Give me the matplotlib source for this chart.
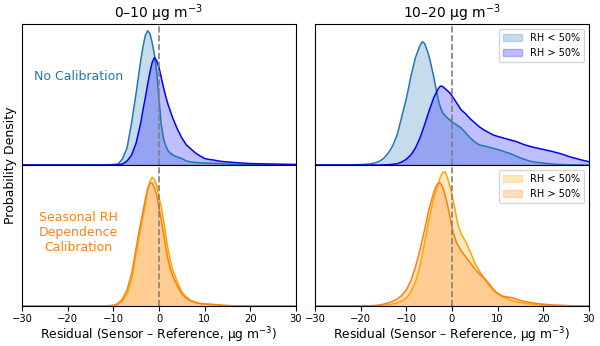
import numpy as np
import matplotlib
matplotlib.use("Agg")
import matplotlib.pyplot as plt
from matplotlib.patches import Patch

# residual grid points (ug m-3) and density
# ---- 0-10 ug m-3, no calibration ----
x_tl_lo = [-30, -15, -11, -10, -9, -8, -7, -6, -5, -4, -3.5, -3, -2.5, -2, -1.5,
           -1, -0.5, 0, 0.5, 1, 1.5, 2, 3, 4, 5, 6, 7, 8, 10, 12, 14, 16, 18,
           20, 25, 30]
y_tl_lo = [0, 0, 0.0002, 0.0005, 0.001, 0.006, 0.017, 0.042, 0.072, 0.104,
           0.118, 0.129, 0.1337, 0.131, 0.122, 0.110, 0.092, 0.066, 0.040,
           0.026, 0.019, 0.014, 0.010, 0.008, 0.0065, 0.004, 0.003, 0.0025,
           0.002, 0.0017, 0.0013, 0.0008, 0.0005, 0.0003, 0.0001, 0]
x_tl_hi = [-30, -12, -9, -8, -7, -6, -5, -4, -3.5, -3, -2.5, -2, -1.5, -1, -0.5,
           0, 0.5, 1, 1.5, 2, 3, 4, 5, 6, 7, 8, 9, 10, 11, 12, 13, 14, 16, 18,
           20, 25, 30]
y_tl_hi = [0, 0, 0.0003, 0.001, 0.004, 0.010, 0.022, 0.042, 0.055, 0.067,
           0.080, 0.092, 0.102, 0.107, 0.104, 0.097, 0.087, 0.077, 0.068,
           0.060, 0.047, 0.036, 0.027, 0.020, 0.016, 0.012, 0.009, 0.0065,
           0.0055, 0.005, 0.004, 0.0035, 0.0027, 0.002, 0.0015, 0.001, 0.0006]

# ---- 10-20 ug m-3, no calibration ----
x_tr_lo = [-30, -22, -20, -18, -17, -16, -15, -14, -13, -12, -11, -10, -9, -8,
           -7, -6.5, -6, -5.5, -5, -4.5, -4, -3.5, -3, -2.5, -2, -1.5, -1, 0,
           1, 2, 3, 4, 5, 6, 7, 8, 9, 10, 11, 12, 13, 14, 15, 16, 17, 18, 20,
           22, 24, 26, 30]
y_tr_lo = [0, 0.0002, 0.0005, 0.001, 0.002, 0.0035, 0.0065, 0.0115, 0.019,
           0.030, 0.048, 0.066, 0.088, 0.107, 0.119, 0.1227, 0.121, 0.115,
           0.108, 0.098, 0.088, 0.076, 0.065, 0.057, 0.052, 0.049, 0.047,
           0.043, 0.040, 0.037, 0.032, 0.027, 0.023, 0.020, 0.019, 0.018,
           0.0167, 0.0155, 0.014, 0.0125, 0.011, 0.009, 0.007, 0.0055, 0.004,
           0.003, 0.002, 0.001, 0.0005, 0.0002, 0]
x_tr_hi = [-30, -16, -14, -13, -12, -11, -10, -9, -8, -7, -6, -5, -4, -3, -2.5,
           -2, -1.5, -1, -0.5, 0, 1, 2, 3, 4, 5, 6, 7, 8, 9, 10, 12, 14, 16,
           18, 20, 22, 24, 26, 28, 30]
y_tr_hi = [0, 0, 0.0003, 0.0007, 0.0013, 0.003, 0.0058, 0.010, 0.017, 0.027,
           0.040, 0.054, 0.067, 0.076, 0.0787, 0.078, 0.076, 0.074, 0.072,
           0.069, 0.062, 0.055, 0.051, 0.046, 0.042, 0.038, 0.035, 0.0325,
           0.030, 0.0285, 0.026, 0.0235, 0.020, 0.0175, 0.0155, 0.0135, 0.011,
           0.008, 0.0055, 0.0033]

# ---- 0-10 ug m-3, seasonal RH calibration ----
x_bl_lo = [-30, -12, -10, -9, -8, -7, -6, -5, -4, -3, -2.5, -2, -1.5, -1, -0.5,
           0, 0.5, 1, 1.5, 2, 2.5, 3, 4, 5, 6, 7, 8, 9, 10, 11, 12, 13, 14, 16,
           20, 30]
y_bl_lo = [0, 0, 0.0003, 0.0015, 0.005, 0.012, 0.026, 0.052, 0.077, 0.101,
           0.115, 0.124, 0.1283, 0.126, 0.120, 0.108, 0.099, 0.085, 0.070,
           0.056, 0.045, 0.036, 0.024, 0.014, 0.009, 0.0055, 0.0035, 0.0025,
           0.002, 0.0015, 0.0012, 0.001, 0.0005, 0.0002, 0.0001, 0]
x_bl_hi = [-30, -12, -10, -9, -8, -7, -6, -5, -4, -3, -2.5, -2, -1.5, -1, -0.5,
           0, 0.5, 1, 1.5, 2, 2.5, 3, 4, 5, 6, 7, 8, 9, 10, 11, 12, 13, 14, 16,
           20, 30]
y_bl_hi = [0, 0.0001, 0.0007, 0.0025, 0.007, 0.016, 0.032, 0.058, 0.083,
           0.106, 0.117, 0.122, 0.1225, 0.118, 0.110, 0.098, 0.086, 0.072,
           0.058, 0.046, 0.037, 0.030, 0.020, 0.012, 0.0075, 0.005, 0.0035,
           0.0025, 0.002, 0.0018, 0.0015, 0.0012, 0.0007, 0.0003, 0.0001, 0]

# ---- 10-20 ug m-3, seasonal RH calibration ----
x_br_lo = [-30, -20, -16, -14, -12, -11, -10, -9, -8, -7, -6, -5, -4, -3, -2.5,
           -2, -1.5, -1, -0.5, 0, 0.5, 1, 1.5, 2, 2.5, 3, 4, 5, 6, 7, 8, 9, 10,
           11, 12, 13, 14, 16, 18, 20, 22, 25, 30]
y_br_lo = [0, 0.0001, 0.0003, 0.001, 0.003, 0.005, 0.008, 0.014, 0.024,
           0.040, 0.063, 0.087, 0.107, 0.122, 0.129, 0.133, 0.1337, 0.128,
           0.120, 0.111, 0.100, 0.088, 0.078, 0.072, 0.068, 0.064, 0.054,
           0.043, 0.035, 0.028, 0.021, 0.016, 0.012, 0.0095, 0.0075, 0.0055,
           0.0043, 0.0025, 0.0015, 0.0008, 0.0004, 0.0001, 0]
x_br_hi = [-30, -20, -18, -17, -16, -15, -14, -13, -12, -11, -10, -9, -8, -7,
           -6, -5, -4, -3.5, -3, -2.5, -2, -1.5, -1, -0.5, 0, 0.5, 1, 2, 3, 4,
           5, 6, 7, 8, 9, 10, 11, 12, 13, 14, 15, 16, 18, 20, 22, 24, 26, 30]
y_br_hi = [0, 0.0001, 0.0003, 0.0005, 0.001, 0.0018, 0.003, 0.0045, 0.0068,
           0.0105, 0.016, 0.025, 0.039, 0.056, 0.076, 0.097, 0.113, 0.119,
           0.1225, 0.122, 0.118, 0.110, 0.101, 0.090, 0.078, 0.070, 0.063,
           0.055, 0.049, 0.043, 0.037, 0.032, 0.028, 0.023, 0.017, 0.0125,
           0.010, 0.009, 0.0085, 0.007, 0.0055, 0.0043, 0.0028, 0.0018, 0.001,
           0.0007, 0.0003, 0]

titles = ["0\u201310 \u03bcg m$^{-3}$", "10\u201320 \u03bcg m$^{-3}$"]
labels = ["RH < 50%", "RH > 50%"]
xlabel = "Residual (Sensor \u2013 Reference, \u03bcg m$^{-3}$)"

BLUE_LO, BLUE_HI = "tab:blue", "blue"
ORG_LO, ORG_HI = "orange", "tab:orange"

fig = plt.figure(figsize=(6.0, 3.46), dpi=100)
lefts = [0.0367, 0.525]
w = 0.4566
axes = {}
for c, l in enumerate(lefts):
    axes[(0, c)] = fig.add_axes([l, 0.523, w, 0.4076])
    axes[(1, c)] = fig.add_axes([l, 0.1156, w, 0.4074])

panels = [
    ((0, 0), x_tl_lo, y_tl_lo, x_tl_hi, y_tl_hi, BLUE_LO, BLUE_HI),
    ((0, 1), x_tr_lo, y_tr_lo, x_tr_hi, y_tr_hi, BLUE_LO, BLUE_HI),
    ((1, 0), x_bl_lo, y_bl_lo, x_bl_hi, y_bl_hi, ORG_LO, ORG_HI),
    ((1, 1), x_br_lo, y_br_lo, x_br_hi, y_br_hi, ORG_LO, ORG_HI),
]
for key, xa, ya, xb, yb, ca, cb in panels:
    ax = axes[key]
    ax.fill_between(xa, ya, color=ca, alpha=0.25, lw=0)
    ax.plot(xa, ya, color=ca, lw=1.1)
    ax.fill_between(xb, yb, color=cb, alpha=0.25, lw=0)
    ax.plot(xb, yb, color=cb, lw=1.1)
    ax.axvline(0, color="grey", ls="--", lw=1.2)
    ax.set_xlim(-30, 30)
    ax.set_yticks([])
    ax.set_xticks([-30, -20, -10, 0, 10, 20, 30])
    ax.tick_params(labelsize=7.2, pad=2.5)
    if key[0] == 0:
        ax.tick_params(bottom=False, labelbottom=False)
    else:
        ax.set_xlabel(xlabel, fontsize=8.8, labelpad=0.5)
    if key[1] == 1:
        ax.legend(handles=[Patch(facecolor=ca, edgecolor=ca, alpha=0.25),
                           Patch(facecolor=cb, edgecolor=cb, alpha=0.25)],
                  labels=labels, loc="upper right", fontsize=7)

# per-column shared y scale
colmax = [max(y_tl_lo + y_tl_hi + y_bl_lo + y_bl_hi),
          max(y_tr_lo + y_tr_hi + y_br_lo + y_br_hi)]
for (r, c), ax in axes.items():
    ax.set_ylim(0, colmax[c] * 1.05)

# legend patches: solid edges
for ax in (axes[(0, 1)], axes[(1, 1)]):
    for h in ax.get_legend().legend_handles:
        ec = h.get_facecolor()
        h.set_edgecolor((ec[0], ec[1], ec[2], 1.0))

axes[(0, 0)].set_title(titles[0], fontsize=10, pad=4)
axes[(0, 1)].set_title(titles[1], fontsize=10, pad=4)

axes[(0, 0)].text(0.206, 0.63, "No Calibration", transform=axes[(0, 0)].transAxes,
                  color="tab:blue", fontsize=9, ha="center", va="center")
axes[(1, 0)].text(0.205, 0.52, "Seasonal RH\nDependence\nCalibration",
                  transform=axes[(1, 0)].transAxes, color="tab:orange",
                  fontsize=9, ha="center", va="center")
fig.text(0.017, 0.523, "Probability Density", rotation=90, fontsize=9,
         ha="center", va="center")

fig.savefig("out.png", dpi=100)
